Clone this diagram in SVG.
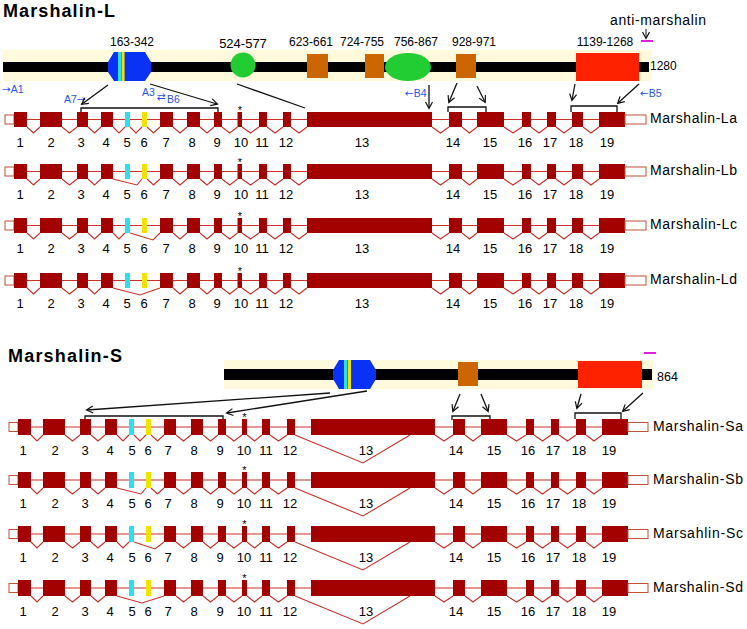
<svg xmlns="http://www.w3.org/2000/svg" width="747" height="629" viewBox="0 0 747 629">
<style>
text{font-family:"Liberation Sans",Arial,"DejaVu Sans",sans-serif;fill:#000}
.title{font-size:18px;font-weight:bold}
.num{font-size:13px;text-anchor:middle}
.plab{font-size:12px;text-anchor:middle}
.blue{font-size:10.5px;fill:#2a55e0}
.arr{font-family:"DejaVu Sans",sans-serif}
.iso{font-size:14px}
.star{font-size:11px;text-anchor:middle}
.ex{fill:#a30000}
.cy{fill:#2de0f0}
.ye{fill:#f2e200}
.utr{fill:#fff;stroke:#c0503a;stroke-width:1}
.intron{stroke:#c8302a;stroke-width:1.1;fill:none}
.chev{stroke:#c8302a;stroke-width:1.1;fill:none;stroke-linejoin:miter}
.band{fill:#fffadc}
.bar{fill:#000}
.blueDom{fill:#0a32f5}
.grn{fill:#22cc33}
.org{fill:#cc6600}
.redDom{fill:#ff2200}
.conn{stroke:#111;stroke-width:1.3;fill:none}
.mag{stroke:#dd22dd;stroke-width:2}
</style>
<defs>
<marker id="ah" markerWidth="9" markerHeight="9" refX="7" refY="4.5" orient="auto" markerUnits="userSpaceOnUse">
<path d="M1,1 L7.5,4.5 L1,8" fill="none" stroke="#111" stroke-width="1.2"/>
</marker>
</defs>

<!-- Titles -->
<text id="title-L" class="title" x="3" y="17" textLength="112">Marshalin-L</text>
<text id="title-S" class="title" x="8" y="362" textLength="114">Marshalin-S</text>

<!-- Protein L -->
<g id="protein-L">
<rect class="band" x="3" y="50" width="649" height="31"/>
<rect class="bar" x="3" y="62" width="646" height="10"/>
<polygon class="blueDom" points="114,52 145,52 151,62 151,72 145,81 114,81 108,72 108,62"/>
<rect class="cy" x="118" y="52" width="3.2" height="29"/>
<rect class="ye" x="121.6" y="52" width="3" height="29"/>
<circle class="grn" cx="243" cy="65" r="12.5"/>
<rect class="org" x="307" y="54" width="21" height="24"/>
<rect class="org" x="365" y="54" width="19" height="24"/>
<ellipse class="grn" cx="408" cy="67" rx="23" ry="14"/>
<rect class="org" x="456" y="54" width="20" height="24"/>
<rect class="redDom" x="576" y="53" width="63" height="28"/>
<text class="plab" x="132" y="46">163-342</text>
<text class="plab" x="243" y="48" style="font-size:13px">524-577</text>
<text class="plab" x="311" y="46">623-661</text>
<text class="plab" x="362" y="46">724-755</text>
<text class="plab" x="416" y="46">756-867</text>
<text class="plab" x="474" y="46">928-971</text>
<text class="plab" x="605" y="46">1139-1268</text>
<text x="650" y="70" style="font-size:12px">1280</text>
<text x="610" y="25" style="font-size:14px" textLength="96">anti-marshalin</text>
<line class="mag" x1="641" y1="41" x2="653" y2="41"/>
</g>

<!-- Protein S -->
<g id="protein-S">
<rect class="band" x="224" y="360" width="429" height="29"/>
<rect class="bar" x="224" y="369" width="428" height="11"/>
<polygon class="blueDom" points="339,360 370,360 376,370 376,379 370,389 339,389 333,379 333,370"/>
<rect class="cy" x="344" y="360" width="3.5" height="29"/>
<rect class="ye" x="348" y="360" width="3" height="29"/>
<rect class="org" x="458" y="362" width="20" height="24"/>
<rect class="redDom" x="578" y="361" width="64" height="27"/>
<text x="657" y="381" style="font-size:12.5px">864</text>
<line class="mag" x1="644" y1="353" x2="656" y2="353"/>
</g>

<!-- Primer labels -->
<g id="primers">
<text class="blue" x="2" y="93"><tspan class="arr">→</tspan>A1</text>
<text class="blue" x="64" y="103">A7<tspan class="arr">→</tspan></text>
<text class="blue" x="142" y="96">A3</text>
<text class="blue arr" x="157" y="99.5">⇄</text>
<text class="blue" x="167" y="103">B6</text>
<text class="blue" x="405" y="97"><tspan class="arr">←</tspan>B4</text>
<text class="blue" x="640" y="97"><tspan class="arr">←</tspan>B5</text>
</g>

<!-- Connectors -->
<g id="connectors">
<line class="conn" x1="108" y1="85" x2="82" y2="104" marker-end="url(#ah)"/>
<line class="conn" x1="150" y1="84" x2="217" y2="104" marker-end="url(#ah)"/>
<line class="conn" x1="237" y1="84" x2="305" y2="108"/>
<line class="conn" x1="429" y1="85" x2="429" y2="108" marker-end="url(#ah)"/>
<line class="conn" x1="457" y1="83" x2="449" y2="102" marker-end="url(#ah)"/>
<line class="conn" x1="477" y1="86" x2="485" y2="102" marker-end="url(#ah)"/>
<line class="conn" x1="575" y1="84" x2="572" y2="100" marker-end="url(#ah)"/>
<line class="conn" x1="639" y1="84" x2="618" y2="103" marker-end="url(#ah)"/>
<line class="conn" x1="646" y1="29" x2="646" y2="38" marker-end="url(#ah)" style="stroke-width:1"/>
<path class="conn" d="M81,113 L81,108 L218,108 L218,113"/>
<path class="conn" d="M448,112 L448,107 L486,107 L486,112"/>
<path class="conn" d="M571,112 L571,106 L617,106 L617,112"/>
<line class="conn" x1="330" y1="393" x2="87" y2="410" marker-end="url(#ah)"/>
<line class="conn" x1="367" y1="391" x2="227" y2="413" marker-end="url(#ah)"/>
<line class="conn" x1="460" y1="394" x2="453" y2="411" marker-end="url(#ah)"/>
<line class="conn" x1="481" y1="394" x2="488" y2="411" marker-end="url(#ah)"/>
<line class="conn" x1="581" y1="394" x2="577" y2="408" marker-end="url(#ah)"/>
<line class="conn" x1="643" y1="393" x2="623" y2="411" marker-end="url(#ah)"/>
<path class="conn" d="M85,420 L85,416 L223,416 L223,420"/>
<path class="conn" d="M452,420 L452,416 L490,416 L490,420"/>
<path class="conn" d="M575,419 L575,413 L621,413 L621,419"/>
</g>

<!-- L rows -->
<g id="row-La" transform="translate(0,112)">
<rect class="utr" x="5" y="3" width="9" height="9"/>
<line class="intron" x1="14" y1="7.5" x2="625" y2="7.5"/>
<path class="chev" d="M27,15 L33.5,21 L40,15 M62,15 L69.5,21 L77,15 M88,15 L94.5,21 L101,15 M113,15 L119,21 L125,15 M130,15 L136,21 L142,15 M147,15 L153.5,21 L160,15 M173,15 L180,21 L187,15 M200,15 L207,21 L214,15 M222,15 L229.7,21 L237.5,15 M242,15 L250.5,21 L259,15 M267,15 L275,21 L283,15 M291,15 L299,21 L307,15 M432,15 L440.5,21 L449,15 M462,15 L469.5,21 L477,15 M504,15 L513,21 L522,15 M531,15 L539,21 L547,15 M556,15 L564,21 L572,15 M583,15 L591,21 L599,15"/>
<rect class="ex" x="14" y="0" width="13" height="15"/><rect class="ex" x="40" y="0" width="22" height="15"/><rect class="ex" x="77" y="0" width="11" height="15"/><rect class="ex" x="101" y="0" width="12" height="15"/><rect class="cy" x="125" y="0" width="5" height="15"/><rect class="ye" x="142" y="0" width="5" height="15"/><rect class="ex" x="160" y="0" width="13" height="15"/><rect class="ex" x="187" y="0" width="13" height="15"/><rect class="ex" x="214" y="0" width="8" height="15"/><rect class="ex" x="237.5" y="0" width="4.5" height="15"/><rect class="ex" x="259" y="0" width="8" height="15"/><rect class="ex" x="283" y="0" width="8" height="15"/><rect class="ex" x="307" y="0" width="125" height="15"/><rect class="ex" x="449" y="0" width="13" height="15"/><rect class="ex" x="477" y="0" width="27" height="15"/><rect class="ex" x="522" y="0" width="9" height="15"/><rect class="ex" x="547" y="0" width="9" height="15"/><rect class="ex" x="572" y="0" width="11" height="15"/><rect class="ex" x="599" y="0" width="26" height="15"/>
<rect class="utr" x="625" y="3" width="21" height="9"/>
<text class="star" x="240" y="2">*</text>
<text class="num" y="35"><tspan x="20">1</tspan><tspan x="51">2</tspan><tspan x="81">3</tspan><tspan x="106">4</tspan><tspan x="127">5</tspan><tspan x="144">6</tspan><tspan x="166">7</tspan><tspan x="192">8</tspan><tspan x="217">9</tspan><tspan x="241">10</tspan><tspan x="262">11</tspan><tspan x="286">12</tspan><tspan x="362">13</tspan><tspan x="453">14</tspan><tspan x="490">15</tspan><tspan x="525">16</tspan><tspan x="550">17</tspan><tspan x="576">18</tspan><tspan x="607">19</tspan></text>
<text class="iso" x="650" y="11" textLength="87">Marshalin-La</text>
</g>

<g id="row-Lb" transform="translate(0,164)">
<rect class="utr" x="5" y="3" width="9" height="9"/>
<line class="intron" x1="14" y1="7.5" x2="625" y2="7.5"/>
<path class="chev" d="M27,15 L33.5,21 L40,15 M62,15 L69.5,21 L77,15 M88,15 L94.5,21 L101,15 M113,15 L137,21 L142,15 M147,15 L153.5,21 L160,15 M173,15 L180,21 L187,15 M200,15 L207,21 L214,15 M222,15 L229.7,21 L237.5,15 M242,15 L250.5,21 L259,15 M267,15 L275,21 L283,15 M291,15 L299,21 L307,15 M432,15 L440.5,21 L449,15 M462,15 L469.5,21 L477,15 M504,15 L513,21 L522,15 M531,15 L539,21 L547,15 M556,15 L564,21 L572,15 M583,15 L591,21 L599,15"/>
<rect class="ex" x="14" y="0" width="13" height="15"/><rect class="ex" x="40" y="0" width="22" height="15"/><rect class="ex" x="77" y="0" width="11" height="15"/><rect class="ex" x="101" y="0" width="12" height="15"/><rect class="cy" x="125" y="0" width="5" height="15"/><rect class="ye" x="142" y="0" width="5" height="15"/><rect class="ex" x="160" y="0" width="13" height="15"/><rect class="ex" x="187" y="0" width="13" height="15"/><rect class="ex" x="214" y="0" width="8" height="15"/><rect class="ex" x="237.5" y="0" width="4.5" height="15"/><rect class="ex" x="259" y="0" width="8" height="15"/><rect class="ex" x="283" y="0" width="8" height="15"/><rect class="ex" x="307" y="0" width="125" height="15"/><rect class="ex" x="449" y="0" width="13" height="15"/><rect class="ex" x="477" y="0" width="27" height="15"/><rect class="ex" x="522" y="0" width="9" height="15"/><rect class="ex" x="547" y="0" width="9" height="15"/><rect class="ex" x="572" y="0" width="11" height="15"/><rect class="ex" x="599" y="0" width="26" height="15"/>
<rect class="utr" x="625" y="3" width="21" height="9"/>
<text class="star" x="240" y="2">*</text>
<text class="num" y="35"><tspan x="20">1</tspan><tspan x="51">2</tspan><tspan x="81">3</tspan><tspan x="106">4</tspan><tspan x="127">5</tspan><tspan x="144">6</tspan><tspan x="166">7</tspan><tspan x="192">8</tspan><tspan x="217">9</tspan><tspan x="241">10</tspan><tspan x="262">11</tspan><tspan x="286">12</tspan><tspan x="362">13</tspan><tspan x="453">14</tspan><tspan x="490">15</tspan><tspan x="525">16</tspan><tspan x="550">17</tspan><tspan x="576">18</tspan><tspan x="607">19</tspan></text>
<text class="iso" x="650" y="11" textLength="87">Marshalin-Lb</text>
</g>

<g id="row-Lc" transform="translate(0,218)">
<rect class="utr" x="5" y="3" width="9" height="9"/>
<line class="intron" x1="14" y1="7.5" x2="625" y2="7.5"/>
<path class="chev" d="M27,15 L33.5,21 L40,15 M62,15 L69.5,21 L77,15 M88,15 L94.5,21 L101,15 M113,15 L119,21 L125,15 M130,15 L153,22 L160,15 M173,15 L180,21 L187,15 M200,15 L207,21 L214,15 M222,15 L229.7,21 L237.5,15 M242,15 L250.5,21 L259,15 M267,15 L275,21 L283,15 M291,15 L299,21 L307,15 M432,15 L440.5,21 L449,15 M462,15 L469.5,21 L477,15 M504,15 L513,21 L522,15 M531,15 L539,21 L547,15 M556,15 L564,21 L572,15 M583,15 L591,21 L599,15"/>
<rect class="ex" x="14" y="0" width="13" height="15"/><rect class="ex" x="40" y="0" width="22" height="15"/><rect class="ex" x="77" y="0" width="11" height="15"/><rect class="ex" x="101" y="0" width="12" height="15"/><rect class="cy" x="125" y="0" width="5" height="15"/><rect class="ye" x="142" y="0" width="5" height="15"/><rect class="ex" x="160" y="0" width="13" height="15"/><rect class="ex" x="187" y="0" width="13" height="15"/><rect class="ex" x="214" y="0" width="8" height="15"/><rect class="ex" x="237.5" y="0" width="4.5" height="15"/><rect class="ex" x="259" y="0" width="8" height="15"/><rect class="ex" x="283" y="0" width="8" height="15"/><rect class="ex" x="307" y="0" width="125" height="15"/><rect class="ex" x="449" y="0" width="13" height="15"/><rect class="ex" x="477" y="0" width="27" height="15"/><rect class="ex" x="522" y="0" width="9" height="15"/><rect class="ex" x="547" y="0" width="9" height="15"/><rect class="ex" x="572" y="0" width="11" height="15"/><rect class="ex" x="599" y="0" width="26" height="15"/>
<rect class="utr" x="625" y="3" width="21" height="9"/>
<text class="star" x="240" y="2">*</text>
<text class="num" y="35"><tspan x="20">1</tspan><tspan x="51">2</tspan><tspan x="81">3</tspan><tspan x="106">4</tspan><tspan x="127">5</tspan><tspan x="144">6</tspan><tspan x="166">7</tspan><tspan x="192">8</tspan><tspan x="217">9</tspan><tspan x="241">10</tspan><tspan x="262">11</tspan><tspan x="286">12</tspan><tspan x="362">13</tspan><tspan x="453">14</tspan><tspan x="490">15</tspan><tspan x="525">16</tspan><tspan x="550">17</tspan><tspan x="576">18</tspan><tspan x="607">19</tspan></text>
<text class="iso" x="650" y="11" textLength="87">Marshalin-Lc</text>
</g>

<g id="row-Ld" transform="translate(0,273)">
<rect class="utr" x="5" y="3" width="9" height="9"/>
<line class="intron" x1="14" y1="7.5" x2="625" y2="7.5"/>
<path class="chev" d="M27,15 L33.5,21 L40,15 M62,15 L69.5,21 L77,15 M88,15 L94.5,21 L101,15 M113,15 L140,22 L160,15 M173,15 L180,21 L187,15 M200,15 L207,21 L214,15 M222,15 L229.7,21 L237.5,15 M242,15 L250.5,21 L259,15 M267,15 L275,21 L283,15 M291,15 L299,21 L307,15 M432,15 L440.5,21 L449,15 M462,15 L469.5,21 L477,15 M504,15 L513,21 L522,15 M531,15 L539,21 L547,15 M556,15 L564,21 L572,15 M583,15 L591,21 L599,15"/>
<rect class="ex" x="14" y="0" width="13" height="15"/><rect class="ex" x="40" y="0" width="22" height="15"/><rect class="ex" x="77" y="0" width="11" height="15"/><rect class="ex" x="101" y="0" width="12" height="15"/><rect class="cy" x="125" y="0" width="5" height="15"/><rect class="ye" x="142" y="0" width="5" height="15"/><rect class="ex" x="160" y="0" width="13" height="15"/><rect class="ex" x="187" y="0" width="13" height="15"/><rect class="ex" x="214" y="0" width="8" height="15"/><rect class="ex" x="237.5" y="0" width="4.5" height="15"/><rect class="ex" x="259" y="0" width="8" height="15"/><rect class="ex" x="283" y="0" width="8" height="15"/><rect class="ex" x="307" y="0" width="125" height="15"/><rect class="ex" x="449" y="0" width="13" height="15"/><rect class="ex" x="477" y="0" width="27" height="15"/><rect class="ex" x="522" y="0" width="9" height="15"/><rect class="ex" x="547" y="0" width="9" height="15"/><rect class="ex" x="572" y="0" width="11" height="15"/><rect class="ex" x="599" y="0" width="26" height="15"/>
<rect class="utr" x="625" y="3" width="21" height="9"/>
<text class="star" x="240" y="2">*</text>
<text class="num" y="35"><tspan x="20">1</tspan><tspan x="51">2</tspan><tspan x="81">3</tspan><tspan x="106">4</tspan><tspan x="127">5</tspan><tspan x="144">6</tspan><tspan x="166">7</tspan><tspan x="192">8</tspan><tspan x="217">9</tspan><tspan x="241">10</tspan><tspan x="262">11</tspan><tspan x="286">12</tspan><tspan x="362">13</tspan><tspan x="453">14</tspan><tspan x="490">15</tspan><tspan x="525">16</tspan><tspan x="550">17</tspan><tspan x="576">18</tspan><tspan x="607">19</tspan></text>
<text class="iso" x="650" y="11" textLength="87">Marshalin-Ld</text>
</g>

<!-- S rows -->
<g id="row-Sa" transform="translate(0,419)">
<rect class="utr" x="9" y="3.5" width="9" height="9"/>
<line class="intron" x1="18" y1="8" x2="628" y2="8"/>
<path class="chev" d="M31,16 L37,22 L43,16 M65,16 L72.5,22 L80,16 M91,16 L98,22 L105,16 M117,16 L123,22 L129,16 M134,16 L140,22 L146,16 M151,16 L157.5,22 L164,16 M176,16 L183.5,22 L191,16 M203,16 L210.5,22 L218,16 M226,16 L234,22 L242,16 M247,16 L254.5,22 L262,16 M270,16 L278.5,22 L287,16 M295,16 L363,44 L410,16 M435,16 L444,22 L453,16 M465,16 L473,22 L481,16 M507,16 L516.5,22 L526,16 M534,16 L542.5,22 L551,16 M559,16 L567.5,22 L576,16 M586,16 L594,22 L602,16"/>
<rect class="ex" x="18" y="0" width="13" height="16"/><rect class="ex" x="43" y="0" width="22" height="16"/><rect class="ex" x="80" y="0" width="11" height="16"/><rect class="ex" x="105" y="0" width="12" height="16"/><rect class="cy" x="129" y="0" width="5" height="16"/><rect class="ye" x="146" y="0" width="5" height="16"/><rect class="ex" x="164" y="0" width="12" height="16"/><rect class="ex" x="191" y="0" width="12" height="16"/><rect class="ex" x="218" y="0" width="8" height="16"/><rect class="ex" x="242" y="0" width="5" height="16"/><rect class="ex" x="262" y="0" width="8" height="16"/><rect class="ex" x="287" y="0" width="8" height="16"/><rect class="ex" x="311" y="0" width="124" height="16"/><rect class="ex" x="453" y="0" width="12" height="16"/><rect class="ex" x="481" y="0" width="26" height="16"/><rect class="ex" x="526" y="0" width="8" height="16"/><rect class="ex" x="551" y="0" width="8" height="16"/><rect class="ex" x="576" y="0" width="10" height="16"/><rect class="ex" x="602" y="0" width="26" height="16"/>
<rect class="utr" x="628" y="3.5" width="20" height="9"/>
<text class="star" x="244.5" y="2">*</text>
<text class="num" y="36"><tspan x="23">1</tspan><tspan x="55">2</tspan><tspan x="85">3</tspan><tspan x="110">4</tspan><tspan x="132">5</tspan><tspan x="148">6</tspan><tspan x="168">7</tspan><tspan x="194">8</tspan><tspan x="220">9</tspan><tspan x="244">10</tspan><tspan x="266">11</tspan><tspan x="290">12</tspan><tspan x="366">13</tspan><tspan x="456">14</tspan><tspan x="494">15</tspan><tspan x="528">16</tspan><tspan x="553">17</tspan><tspan x="579">18</tspan><tspan x="609">19</tspan></text>
<text class="iso" x="653" y="12" textLength="90">Marshalin-Sa</text>
</g>

<g id="row-Sb" transform="translate(0,472)">
<rect class="utr" x="9" y="3.5" width="9" height="9"/>
<line class="intron" x1="18" y1="8" x2="628" y2="8"/>
<path class="chev" d="M31,16 L37,22 L43,16 M65,16 L72.5,22 L80,16 M91,16 L98,22 L105,16 M117,16 L141,22 L146,16 M151,16 L157.5,22 L164,16 M176,16 L183.5,22 L191,16 M203,16 L210.5,22 L218,16 M226,16 L234,22 L242,16 M247,16 L254.5,22 L262,16 M270,16 L278.5,22 L287,16 M295,16 L363,44 L410,16 M435,16 L444,22 L453,16 M465,16 L473,22 L481,16 M507,16 L516.5,22 L526,16 M534,16 L542.5,22 L551,16 M559,16 L567.5,22 L576,16 M586,16 L594,22 L602,16"/>
<rect class="ex" x="18" y="0" width="13" height="16"/><rect class="ex" x="43" y="0" width="22" height="16"/><rect class="ex" x="80" y="0" width="11" height="16"/><rect class="ex" x="105" y="0" width="12" height="16"/><rect class="cy" x="129" y="0" width="5" height="16"/><rect class="ye" x="146" y="0" width="5" height="16"/><rect class="ex" x="164" y="0" width="12" height="16"/><rect class="ex" x="191" y="0" width="12" height="16"/><rect class="ex" x="218" y="0" width="8" height="16"/><rect class="ex" x="242" y="0" width="5" height="16"/><rect class="ex" x="262" y="0" width="8" height="16"/><rect class="ex" x="287" y="0" width="8" height="16"/><rect class="ex" x="311" y="0" width="124" height="16"/><rect class="ex" x="453" y="0" width="12" height="16"/><rect class="ex" x="481" y="0" width="26" height="16"/><rect class="ex" x="526" y="0" width="8" height="16"/><rect class="ex" x="551" y="0" width="8" height="16"/><rect class="ex" x="576" y="0" width="10" height="16"/><rect class="ex" x="602" y="0" width="26" height="16"/>
<rect class="utr" x="628" y="3.5" width="20" height="9"/>
<text class="star" x="244.5" y="2">*</text>
<text class="num" y="36"><tspan x="23">1</tspan><tspan x="55">2</tspan><tspan x="85">3</tspan><tspan x="110">4</tspan><tspan x="132">5</tspan><tspan x="148">6</tspan><tspan x="168">7</tspan><tspan x="194">8</tspan><tspan x="220">9</tspan><tspan x="244">10</tspan><tspan x="266">11</tspan><tspan x="290">12</tspan><tspan x="366">13</tspan><tspan x="456">14</tspan><tspan x="494">15</tspan><tspan x="528">16</tspan><tspan x="553">17</tspan><tspan x="579">18</tspan><tspan x="609">19</tspan></text>
<text class="iso" x="653" y="12" textLength="90">Marshalin-Sb</text>
</g>

<g id="row-Sc" transform="translate(0,526)">
<rect class="utr" x="9" y="3.5" width="9" height="9"/>
<line class="intron" x1="18" y1="8" x2="628" y2="8"/>
<path class="chev" d="M31,16 L37,22 L43,16 M65,16 L72.5,22 L80,16 M91,16 L98,22 L105,16 M117,16 L123,22 L129,16 M134,16 L155,23 L164,16 M176,16 L183.5,22 L191,16 M203,16 L210.5,22 L218,16 M226,16 L234,22 L242,16 M247,16 L254.5,22 L262,16 M270,16 L278.5,22 L287,16 M295,16 L363,44 L410,16 M435,16 L444,22 L453,16 M465,16 L473,22 L481,16 M507,16 L516.5,22 L526,16 M534,16 L542.5,22 L551,16 M559,16 L567.5,22 L576,16 M586,16 L594,22 L602,16"/>
<rect class="ex" x="18" y="0" width="13" height="16"/><rect class="ex" x="43" y="0" width="22" height="16"/><rect class="ex" x="80" y="0" width="11" height="16"/><rect class="ex" x="105" y="0" width="12" height="16"/><rect class="cy" x="129" y="0" width="5" height="16"/><rect class="ye" x="146" y="0" width="5" height="16"/><rect class="ex" x="164" y="0" width="12" height="16"/><rect class="ex" x="191" y="0" width="12" height="16"/><rect class="ex" x="218" y="0" width="8" height="16"/><rect class="ex" x="242" y="0" width="5" height="16"/><rect class="ex" x="262" y="0" width="8" height="16"/><rect class="ex" x="287" y="0" width="8" height="16"/><rect class="ex" x="311" y="0" width="124" height="16"/><rect class="ex" x="453" y="0" width="12" height="16"/><rect class="ex" x="481" y="0" width="26" height="16"/><rect class="ex" x="526" y="0" width="8" height="16"/><rect class="ex" x="551" y="0" width="8" height="16"/><rect class="ex" x="576" y="0" width="10" height="16"/><rect class="ex" x="602" y="0" width="26" height="16"/>
<rect class="utr" x="628" y="3.5" width="20" height="9"/>
<text class="star" x="244.5" y="2">*</text>
<text class="num" y="36"><tspan x="23">1</tspan><tspan x="55">2</tspan><tspan x="85">3</tspan><tspan x="110">4</tspan><tspan x="132">5</tspan><tspan x="148">6</tspan><tspan x="168">7</tspan><tspan x="194">8</tspan><tspan x="220">9</tspan><tspan x="244">10</tspan><tspan x="266">11</tspan><tspan x="290">12</tspan><tspan x="366">13</tspan><tspan x="456">14</tspan><tspan x="494">15</tspan><tspan x="528">16</tspan><tspan x="553">17</tspan><tspan x="579">18</tspan><tspan x="609">19</tspan></text>
<text class="iso" x="653" y="12" textLength="90">Marsahlin-Sc</text>
</g>

<g id="row-Sd" transform="translate(0,580)">
<rect class="utr" x="9" y="3.5" width="9" height="9"/>
<line class="intron" x1="18" y1="8" x2="628" y2="8"/>
<path class="chev" d="M31,16 L37,22 L43,16 M65,16 L72.5,22 L80,16 M91,16 L98,22 L105,16 M117,16 L142,23 L164,16 M176,16 L183.5,22 L191,16 M203,16 L210.5,22 L218,16 M226,16 L234,22 L242,16 M247,16 L254.5,22 L262,16 M270,16 L278.5,22 L287,16 M295,16 L363,44 L410,16 M435,16 L444,22 L453,16 M465,16 L473,22 L481,16 M507,16 L516.5,22 L526,16 M534,16 L542.5,22 L551,16 M559,16 L567.5,22 L576,16 M586,16 L594,22 L602,16"/>
<rect class="ex" x="18" y="0" width="13" height="16"/><rect class="ex" x="43" y="0" width="22" height="16"/><rect class="ex" x="80" y="0" width="11" height="16"/><rect class="ex" x="105" y="0" width="12" height="16"/><rect class="cy" x="129" y="0" width="5" height="16"/><rect class="ye" x="146" y="0" width="5" height="16"/><rect class="ex" x="164" y="0" width="12" height="16"/><rect class="ex" x="191" y="0" width="12" height="16"/><rect class="ex" x="218" y="0" width="8" height="16"/><rect class="ex" x="242" y="0" width="5" height="16"/><rect class="ex" x="262" y="0" width="8" height="16"/><rect class="ex" x="287" y="0" width="8" height="16"/><rect class="ex" x="311" y="0" width="124" height="16"/><rect class="ex" x="453" y="0" width="12" height="16"/><rect class="ex" x="481" y="0" width="26" height="16"/><rect class="ex" x="526" y="0" width="8" height="16"/><rect class="ex" x="551" y="0" width="8" height="16"/><rect class="ex" x="576" y="0" width="10" height="16"/><rect class="ex" x="602" y="0" width="26" height="16"/>
<rect class="utr" x="628" y="3.5" width="20" height="9"/>
<text class="star" x="244.5" y="2">*</text>
<text class="num" y="36"><tspan x="23">1</tspan><tspan x="55">2</tspan><tspan x="85">3</tspan><tspan x="110">4</tspan><tspan x="132">5</tspan><tspan x="148">6</tspan><tspan x="168">7</tspan><tspan x="194">8</tspan><tspan x="220">9</tspan><tspan x="244">10</tspan><tspan x="266">11</tspan><tspan x="290">12</tspan><tspan x="366">13</tspan><tspan x="456">14</tspan><tspan x="494">15</tspan><tspan x="528">16</tspan><tspan x="553">17</tspan><tspan x="579">18</tspan><tspan x="609">19</tspan></text>
<text class="iso" x="653" y="12" textLength="90">Marshalin-Sd</text>
</g>
</svg>
